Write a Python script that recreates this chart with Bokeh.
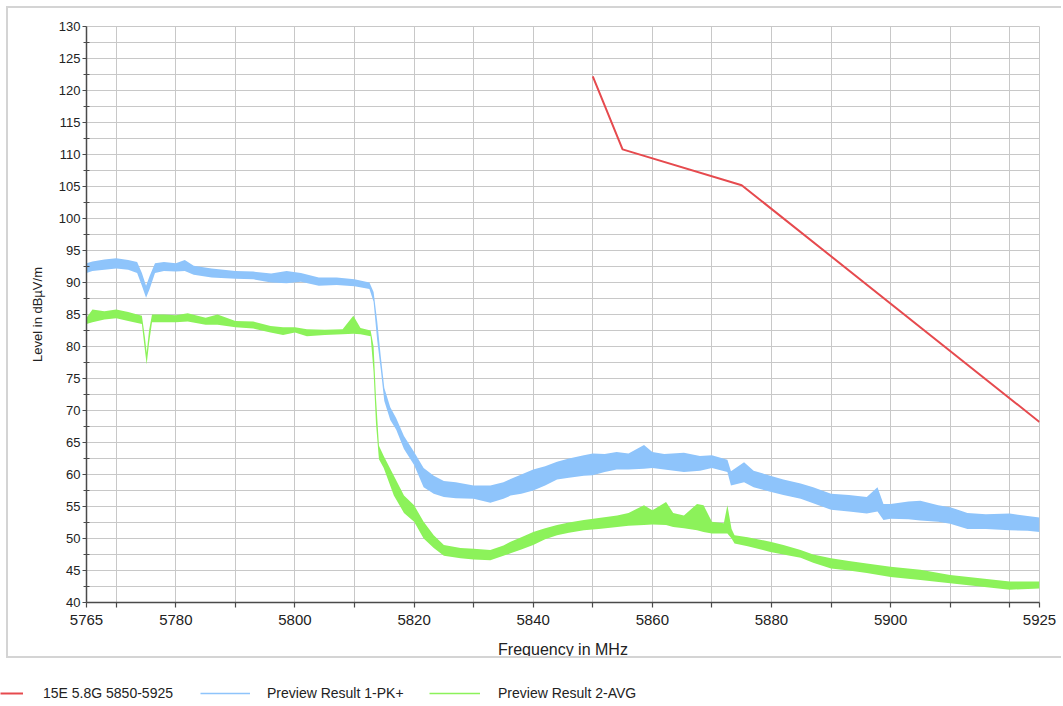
from bokeh.plotting import figure
from bokeh.models import FixedTicker, Legend, LegendItem, ColumnDataSource
from bokeh.layouts import column, row
from bokeh.embed import file_html
from bokeh.resources import INLINE

# ---------------- data ----------------
limit_freq = [5850, 5855, 5875, 5925]
limit_level = [122.2, 110.8, 105.2, 68.2]

pk_freq = [5765, 5766, 5768, 5770, 5772, 5773.5, 5774.3, 5775.0, 5775.6, 5776.5,
           5778, 5780, 5781.5, 5783, 5786, 5790, 5793, 5796, 5798.6, 5801,
           5804, 5807, 5810, 5812.5, 5813.2, 5813.8, 5814.4, 5815, 5816, 5817,
           5818.3, 5820, 5821.6, 5823.3, 5825, 5827, 5830, 5832.8, 5835, 5836.2,
           5838, 5840, 5842, 5844, 5846, 5848.5, 5850, 5852, 5854, 5856,
           5858.6, 5860, 5862, 5865.3, 5868, 5870, 5872.6, 5873.2, 5875.4, 5877,
           5879.8, 5882, 5884.9, 5887, 5890, 5893, 5896, 5897.8, 5898.8, 5900,
           5903, 5905, 5908, 5910, 5912.9, 5916, 5920, 5923, 5925]
pk_low = [91.5, 91.8, 92.0, 92.2, 92.0, 91.5, 89.5, 87.6, 89.0, 91.5,
          91.8, 91.7, 91.8, 91.2, 90.8, 90.6, 90.5, 90.0, 89.9, 90.1,
          89.5, 89.6, 89.4, 89.0, 87.0, 81.0, 76.5, 71.5, 68.5, 67.0,
          64.0, 61.5, 58.0, 57.0, 56.5, 56.3, 56.2, 55.6, 56.2, 56.7,
          57.0, 57.5, 58.3, 59.2, 59.5, 59.8, 59.9, 60.4, 60.8, 60.8,
          60.9, 61.0, 60.8, 60.4, 60.6, 61.0, 60.4, 58.3, 58.8, 58.0,
          57.3, 56.8, 56.2, 55.5, 54.5, 54.2, 53.9, 54.2, 52.9, 53.1,
          53.0, 52.8, 52.6, 52.3, 51.5, 51.5, 51.3, 51.2, 51.0]
pk_high = [93.0, 93.3, 93.6, 93.8, 93.5, 93.2, 91.5, 89.5, 91.0, 93.0,
           93.2, 93.0, 93.5, 92.6, 92.2, 91.8, 91.7, 91.4, 91.8, 91.5,
           90.8, 90.8, 90.5, 90.0, 88.5, 84.0, 78.5, 73.5, 70.5, 68.8,
           66.0, 63.5, 61.0, 59.8, 59.0, 58.8, 58.3, 58.3, 58.8, 59.3,
           60.0, 60.8, 61.3, 62.0, 62.5, 63.0, 63.3, 63.2, 63.5, 63.3,
           64.6, 63.5, 63.2, 63.4, 62.9, 63.0, 62.3, 60.5, 61.9, 60.6,
           59.8, 59.2, 58.6, 58.0, 57.0, 56.8, 56.5, 58.0, 55.4, 55.4,
           55.8, 55.9, 55.2, 54.9, 54.0, 53.8, 53.9, 53.5, 53.3]

avg_freq = [5765, 5766, 5768, 5770, 5772, 5774.3, 5774.8, 5775.1, 5775.5, 5776,
            5778, 5780, 5782, 5785, 5787, 5790, 5793, 5795.9, 5798, 5800,
            5802, 5805, 5808, 5809.8, 5811, 5812.7, 5813.2, 5813.6, 5814.1, 5814.9,
            5816.6, 5818.3, 5820, 5821.6, 5823.3, 5825, 5827.8, 5830, 5832.8, 5835,
            5836.2, 5838, 5840, 5842, 5844, 5846, 5848.5, 5851, 5854.1, 5856,
            5858.6, 5860, 5862.3, 5863.5, 5865.3, 5867.5, 5868.6, 5870, 5872.0, 5872.6,
            5873.3, 5873.8, 5876, 5879.8, 5882, 5884.9, 5887, 5890, 5893, 5896,
            5900, 5905, 5910, 5915, 5920, 5925]
avg_low = [83.5, 83.8, 84.2, 84.4, 84.0, 83.5, 79.5, 77.2, 80.5, 83.8,
           83.8, 83.8, 83.9, 83.4, 83.4, 83.0, 82.8, 82.2, 81.8, 82.2,
           81.6, 81.8, 81.9, 82.0, 81.9, 81.6, 76.0, 68.0, 62.4, 61.0,
           56.7, 54.0, 52.6, 50.0, 48.5, 47.3, 46.9, 46.7, 46.6, 47.3,
           47.7, 48.3, 49.0, 49.9, 50.5, 50.9, 51.3, 51.5, 51.8, 52.0,
           52.1, 52.2, 52.1, 51.8, 51.6, 51.3, 51.0, 50.8, 50.8, 50.8,
           50.0, 49.2, 48.8, 47.9, 47.5, 47.0, 46.2, 45.3, 45.0, 44.6,
           44.0, 43.5, 43.0, 42.5, 42.0, 42.2]
avg_high = [84.5, 85.8, 85.5, 85.8, 85.4, 84.8, 81.5, 79.0, 82.5, 85.0,
            85.0, 84.9, 85.2, 84.5, 85.0, 84.0, 83.9, 83.2, 83.0, 83.0,
            82.7, 82.6, 82.7, 84.8, 82.9, 82.5, 80.0, 72.0, 64.5, 62.9,
            59.8, 56.7, 55.2, 52.6, 50.5, 49.0, 48.5, 48.4, 48.2, 48.9,
            49.5, 50.2, 51.0, 51.6, 52.1, 52.5, 52.9, 53.2, 53.6, 54.0,
            55.2, 54.4, 55.7, 54.0, 53.6, 55.4, 55.2, 52.6, 52.4, 55.2,
            51.5, 50.5, 50.2, 49.5, 49.0, 48.2, 47.5, 46.9, 46.5, 46.1,
            45.6, 45.1, 44.3, 43.8, 43.3, 43.3]

x_ticks = [5765, 5770, 5780, 5790, 5800, 5810, 5820, 5830, 5840, 5850,
           5860, 5870, 5880, 5890, 5900, 5910, 5920, 5925]
x_tick_labels = {5765: "5765", 5780: "5780", 5800: "5800", 5820: "5820",
                 5840: "5840", 5860: "5860", 5880: "5880", 5900: "5900",
                 5925: "5925"}
x_grid = [5770, 5780, 5790, 5800, 5810, 5820, 5830, 5840, 5850, 5860,
          5870, 5880, 5890, 5900, 5910, 5920]
y_ticks = [40, 45, 50, 55, 60, 65, 70, 75, 80, 85, 90, 95, 100, 105,
           110, 115, 120, 125, 130]
y_minor = [42.5, 47.5, 52.5, 57.5, 62.5, 67.5, 72.5, 77.5, 82.5, 87.5,
           92.5, 97.5, 102.5, 107.5, 112.5, 117.5, 122.5, 127.5]

series_names = ["15E 5.8G 5850-5925", "Preview Result 1-PK+", "Preview Result 2-AVG"]
RED = "#e64a4e"
BLUE = "#8ec4fb"
GREEN = "#8cf25a"
FONT = "Liberation Sans"

# ---------------- main chart ----------------
p = figure(width=1055, height=652, x_range=(5765, 5925), y_range=(40, 130),
           output_backend="svg", toolbar_location=None,
           min_border_left=78, min_border_right=24, min_border_top=18,
           min_border_bottom=53)
p.styles = {"margin-left": "6px", "margin-top": "6px",
            "border-top": "2px solid #d4d4d4", "border-left": "2px solid #d4d4d4",
            "border-bottom": "2px solid #d4d4d4"}
p.outline_line_color = "#c8c8c8"
p.background_fill_color = "white"

p.xaxis.ticker = FixedTicker(ticks=x_ticks, minor_ticks=[])
p.xaxis.major_label_overrides = {t: x_tick_labels.get(t, "") for t in x_ticks}
p.yaxis.ticker = FixedTicker(ticks=y_ticks, minor_ticks=y_minor)
p.xgrid.ticker = FixedTicker(ticks=x_grid, minor_ticks=[])
p.xgrid.grid_line_color = "#c8c8c8"
p.ygrid.grid_line_color = "#c8c8c8"
p.ygrid.minor_grid_line_color = "#c8c8c8"

for ax in (p.xaxis, p.yaxis):
    ax.axis_line_color = "#4a4a4a"
    ax.axis_line_width = 1.5
    ax.major_tick_line_color = "#4a4a4a"
    ax.minor_tick_line_color = "#4a4a4a"
    ax.major_tick_line_width = 1.2
    ax.major_label_text_font = FONT
    ax.major_label_text_color = "#222222"
    ax.axis_label_text_font = FONT
    ax.axis_label_text_font_style = "normal"
    ax.axis_label_text_color = "#222222"

p.xaxis.major_tick_in = 0
p.xaxis.major_tick_out = 5
p.xaxis.major_label_text_font_size = "15px"
p.xaxis.major_label_standoff = 7
p.xaxis.axis_label = "Frequency in MHz"
p.xaxis.axis_label_text_font_size = "16px"
p.xaxis.axis_label_standoff = 13

p.yaxis.major_tick_in = 0
p.yaxis.major_tick_out = 4
p.yaxis.minor_tick_in = 3
p.yaxis.minor_tick_out = 3
p.yaxis.major_label_text_font_size = "13px"
p.yaxis.major_label_standoff = 2
p.yaxis.axis_label = "Level in dBµV/m"
p.yaxis.axis_label_text_font_size = "13px"
p.yaxis.axis_label_standoff = 11

pk_src = ColumnDataSource(dict(x=pk_freq, lo=pk_low, hi=pk_high))
avg_src = ColumnDataSource(dict(x=avg_freq, lo=avg_low, hi=avg_high))
p.varea(x="x", y1="lo", y2="hi", source=pk_src, fill_color=BLUE, fill_alpha=1.0)
p.varea(x="x", y1="lo", y2="hi", source=avg_src, fill_color=GREEN, fill_alpha=1.0)
p.line(limit_freq, limit_level, line_color=RED, line_width=2)

# ---------------- legend strip ----------------
lg = figure(width=1063, height=46, x_range=(0, 1), y_range=(0, 1),
            output_backend="svg", toolbar_location=None,
            x_axis_location=None, y_axis_location=None,
            min_border=0, min_border_left=0, min_border_right=0,
            min_border_top=0, min_border_bottom=0, outline_line_color=None)
lg.grid.visible = False
r_red = lg.line([-5, -4], [-5, -4], line_color=RED, line_width=2)
r_blue = lg.line([-5, -4], [-5, -4], line_color=BLUE, line_width=1.5)
r_green = lg.line([-5, -4], [-5, -4], line_color=GREEN, line_width=1.5)

specs = [(r_red, series_names[0], (0, 1), 23, 20),
         (r_blue, series_names[1], (200, 1), 50, 17),
         (r_green, series_names[2], (429, 1), 51, 18)]
for rend, name, loc, gw, standoff in specs:
    leg = Legend(items=[LegendItem(label=name, renderers=[rend])], location=loc,
                 orientation="horizontal", padding=0, margin=0, spacing=0,
                 glyph_width=gw, glyph_height=20, label_height=20,
                 label_standoff=standoff, border_line_color=None,
                 background_fill_alpha=0, label_text_font=FONT,
                 label_text_font_size="14px", label_text_color="#222222")
    lg.add_layout(leg)

layout = column(p, row(lg), spacing=0)
open("out.html", "w").write(file_html(layout, INLINE))
